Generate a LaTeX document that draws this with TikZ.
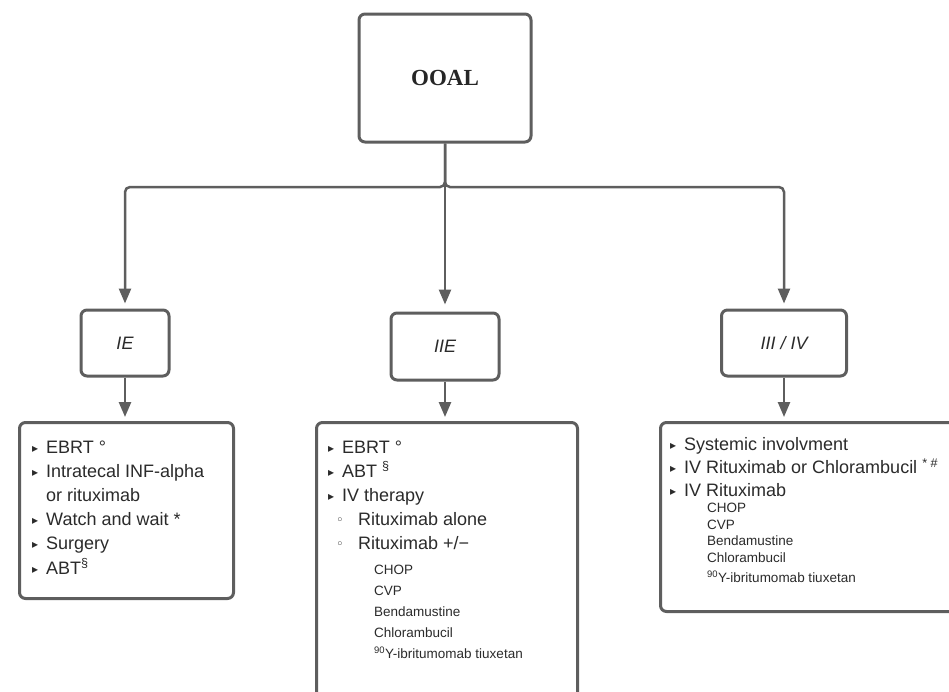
\documentclass[tikz,border=0pt]{standalone}
\usepackage{fontspec}
\setmainfont{Liberation Sans}
\newfontfamily\titlefont{Liberation Serif}
\newfontfamily\symfont{DejaVu Sans}
\usetikzlibrary{arrows.meta}

\definecolor{edgegray}{HTML}{5E5E5E}
\definecolor{inkgray}{HTML}{2B2B2B}
\newcommand{\tri}{\raisebox{1pt}{\symfont\fontsize{12}{12}\selectfont ▸}}
\newcommand{\ringdot}{\raisebox{1pt}{\symfont\fontsize{13}{13}\selectfont ◦}}

\begin{document}
\begin{tikzpicture}[x=1pt, y=-1pt,
      box/.style={draw=edgegray, line width=3pt, rounded corners=6pt, fill=white, inner sep=0pt},
      stage/.style={box, minimum width=88pt, minimum height=66pt,
        font=\fontsize{18}{18}\selectfont\itshape, text=inkgray},
      conn/.style={draw=edgegray, line width=2.5pt, rounded corners=5pt,
        -{Triangle[width=12pt,length=15pt]}},
      item/.style={anchor=base west, inner sep=0pt, text=inkgray, font=\fontsize{18}{18}\selectfont},
      subitem/.style={item, font=\fontsize{13.5}{13.5}\selectfont},
      dot/.style={anchor=base west, inner sep=0pt, text=inkgray}
      ]
      \useasboundingbox (0,0) rectangle (949,691);
      \clip (0,0) rectangle (949,691);

      % boxes
      \node[box, minimum width=172pt, minimum height=128pt,
        font=\titlefont\bfseries\fontsize{23}{23}\selectfont, text=black!85] (ooal) at (445,78) {OOAL};
      \node[stage] (ie) at (125,343) {IE};
      \node[stage, minimum width=108pt, minimum height=67pt] (iie) at (445,346.5) {IIE};
      \node[stage, minimum width=125pt] (adv) at (784,343) {III / IV};

      \node[box, anchor=north west, minimum width=214pt, minimum height=176pt] (ieTx) at (18,421) {};
      \node[box, anchor=north west, minimum width=261pt, minimum height=290pt] (iieTx) at (315,421) {};
      \node[box, anchor=north west, minimum width=310pt, minimum height=189pt] (advTx) at (659,421) {};

      % connectors
      \coordinate (hub) at (445,187);
      \draw[conn, shorten >=5pt] (ooal.south) -- (hub) -| (ie.north);
      \draw[conn, shorten >=5pt] (ooal.south) -- (hub) -| (adv.north);
      \draw[conn, shorten >=7pt] (ooal.south) -- (iie.north);
      \draw[conn, shorten >=4pt] (ie.south) -- (ie.south |- ieTx.north);
      \draw[conn, shorten >=4pt] (iie.south) -- (iie.south |- iieTx.north);
      \draw[conn, shorten >=4pt] (adv.south) -- (adv.south |- advTx.north);

      % IE list
      \foreach \y/\txt [count=\k] in {453/{EBRT °}, 477.2/{Intratecal INF-alpha},
          501.4/{or rituximab}, 525.6/{Watch and wait *}, 549.8/{Surgery},
          574/{ABT\textsuperscript{§}}}
        \node[item] (ieTx-\k) at (46,\y) {\txt};
      \foreach \y [count=\k] in {453, 477.2, 525.6, 549.8, 574}
        \node[dot] (ieTx-b\k) at (32,\y) {\tri};

      % IIE list
      \foreach \y/\txt [count=\k] in {453/{EBRT °}, 477.2/{ABT \textsuperscript{§}},
          501.4/{IV therapy}}
        \node[item] (iieTx-\k) at (342,\y) {\txt};
      \foreach \y [count=\k] in {453, 477.2, 501.4}
        \node[dot] (iieTx-b\k) at (328,\y) {\tri};
      \node[item] (iieTx-4) at (358,525.6) {Rituximab alone};
      \node[item] (iieTx-5) at (358,549.8) {Rituximab +/−};
      \node[dot] (iieTx-r1) at (336,525.6) {\ringdot};
      \node[dot] (iieTx-r2) at (336,549.8) {\ringdot};
      \foreach \y/\txt [count=\k] in {574.5/CHOP, 595.5/CVP, 616.5/Bendamustine,
          637.5/Chlorambucil, 658.5/{\textsuperscript{90}Y-ibritumomab tiuxetan}}
        \node[subitem] (iieTx-s\k) at (374,\y) {\txt};

      % III / IV list
      \foreach \y/\txt [count=\k] in {450.7/{Systemic involvment},
          473.7/{IV Rituximab or Chlorambucil \textsuperscript{* \#}}, 496.7/{IV Rituximab}}
        \node[item] (advTx-\k) at (684,\y) {\txt};
      \foreach \y [count=\k] in {450.7, 473.7, 496.7}
        \node[dot] (advTx-b\k) at (670,\y) {\tri};
      \foreach \y/\txt [count=\k] in {512.5/CHOP, 529/CVP, 545.5/Bendamustine,
          562/Chlorambucil, 582.5/{\textsuperscript{90}Y-ibritumomab tiuxetan}}
        \node[subitem] (advTx-s\k) at (707,\y) {\txt};
    \end{tikzpicture}
\end{document}
